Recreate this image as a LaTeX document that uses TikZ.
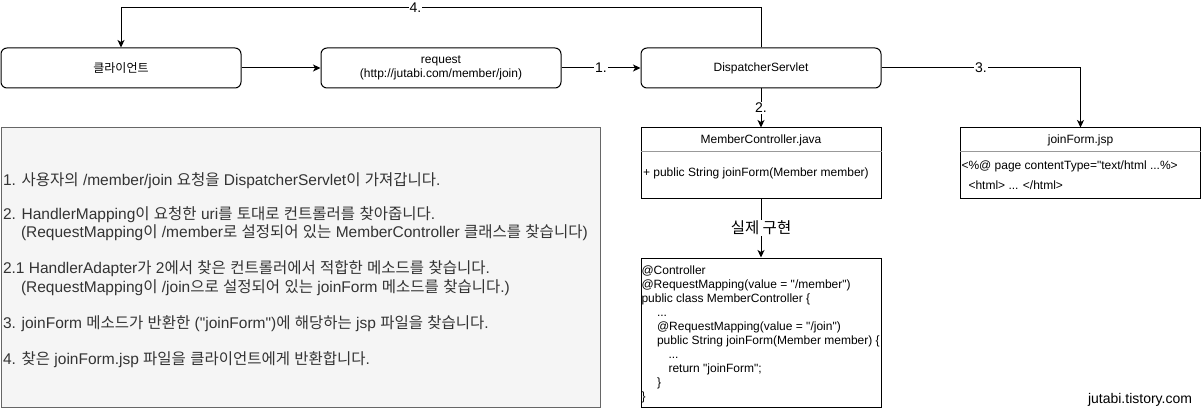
\documentclass[tikz,border=0pt]{standalone}
\usepackage{fontspec}
\setmainfont{Liberation Sans}[Ligatures=TeXOff]
\newfontfamily\krfont{Noto Sans CJK KR}
\usepackage{xcolor}
\usepackage{tikz}
\usetikzlibrary{arrows.meta}
\definecolor{notefill}{HTML}{F5F5F5}
\definecolor{noteline}{HTML}{666666}
\definecolor{notetext}{HTML}{333333}
\definecolor{divline}{HTML}{999999}
\newcommand{\kor}[1]{{\krfont #1}}

\begin{document}
\begin{tikzpicture}[x=1pt, y=-1pt, line width=1pt,
    >={Stealth[length=7.5pt,width=7pt,inset=2pt]},
    rbox/.style={draw, rounded corners=6pt, minimum width=240pt, minimum height=40pt,
      align=center, font=\fontsize{12}{14}\selectfont},
    cbox/.style={draw, minimum width=240pt, inner sep=0pt},
    small/.style={inner sep=0pt, font=\fontsize{12}{14}\selectfont},
    lbl/.style={fill=white, inner sep=1pt, font=\fontsize{14}{16}\selectfont},
    notetxt/.style={inner sep=0pt, anchor=base west, text=notetext,
      font=\fontsize{15.5}{17}\selectfont}]
      \useasboundingbox (0,0) rectangle (1201,409);

      % top row
      \node[rbox] (client) at (121,68) {\kor{클라이언트}};
      \node[rbox] (request) at (441,68) {request\\(http://jutabi.com/member/join)};
      \node[rbox] (servlet) at (761,68) {DispatcherServlet};
      \coordinate (back) at (761,8);

      % class boxes
      \node[cbox, minimum height=70pt] (ctrl) at (761,163) {};
      \node[small] (ctrlname) at (761,140) {MemberController.java};
      \draw[divline] ([yshift=-24pt]ctrl.north west) -- ([yshift=-24pt]ctrl.north east);
      \node[small, anchor=west] (ctrlop) at (642.5,173) {+ public String joinForm(Member member)};

      \node[cbox, minimum height=70pt] (jsp) at (1080.5,163) {};
      \node[small] (jspname) at (1080.5,140) {joinForm.jsp};
      \draw[divline] ([yshift=-24pt]jsp.north west) -- ([yshift=-24pt]jsp.north east);
      \node[small, anchor=west] (jspline1) at (961,166) {<\%@ page contentType="text/html ...\%>};
      \node[small, anchor=west] (jspline2) at (968,185) {<html> ... </html>};

      % code
      \node[cbox, minimum height=149pt] (code) at (761,332.5) {};
      \foreach \ind/\txt [count=\i] in {
          0/{@Controller},
          0/{@RequestMapping(value = "/member")},
          0/{public class MemberController \{},
          15.5/{...},
          15.5/{@RequestMapping(value = "/join")},
          15.5/{public String joinForm(Member member) \{},
          27/{...},
          27/{return "joinForm";},
          15.5/{\}},
          0/{\}}} {
        \node[small, anchor=base west] (code\i) at ({641+\ind},{274+14*(\i-1)}) {\txt};
      }

      % notes
      \node[draw=noteline, fill=notefill, minimum width=599pt, minimum height=279pt] (note) at (300.5,267.5) {};
      \node[notetxt] (note1) at (2.5,185.5) {1. \kor{사용자의} /member/join \kor{요청을} DispatcherServlet\kor{이} \kor{가져갑니다}.};
      \node[notetxt] (note2) at (2.5,219.8) {2. HandlerMapping\kor{이} \kor{요청한} uri\kor{를} \kor{토대로} \kor{컨트롤러를} \kor{찾아줍니다}.};
      \node[notetxt] (note3) at (20.5,237.2) {(RequestMapping\kor{이} /member\kor{로} \kor{설정되어} \kor{있는} MemberController \kor{클래스를} \kor{찾습니다})};
      \node[notetxt] (note4) at (2.5,273.8) {2.1 HandlerAdapter\kor{가} 2\kor{에서} \kor{찾은} \kor{컨트롤러에서} \kor{적합한} \kor{메소드를} \kor{찾습니다}.};
      \node[notetxt] (note5) at (20.5,292.2) {(RequestMapping\kor{이} /join\kor{으로} \kor{설정되어} \kor{있는} joinForm \kor{메소드를} \kor{찾습니다}.)};
      \node[notetxt] (note6) at (2.5,328.8) {3. joinForm \kor{메소드가} \kor{반환한} ("joinForm")\kor{에} \kor{해당하는} jsp \kor{파일을} \kor{찾습니다}.};
      \node[notetxt] (note7) at (2.5,364.8) {4. \kor{찾은} joinForm.jsp \kor{파일을} \kor{클라이언트에게} \kor{반환합니다}.};

      \node[inner sep=0pt, font=\fontsize{14}{16}\selectfont] (mark) at (1140,400) {jutabi.tistory.com};

      % connectors
      \draw[->] (client) -- (request);
      \draw[->] (request) -- node[lbl] (step1) {1.} (servlet);
      \draw[->] (servlet) -- node[lbl] (step2) {2.} (ctrl);
      \draw[->] (servlet.east) -| node[lbl, pos=0.25] (step3) {3.} (jsp.north);
      \draw[->] (servlet.north) -- (back) -| node[lbl, pos=0.27] (step4) {4.} (client.north);
      \draw[->] (ctrl) -- node[lbl, font=\fontsize{15.5}{17}\selectfont] (impl) {\kor{실제 구현}} (code);
    \end{tikzpicture}
\end{document}
